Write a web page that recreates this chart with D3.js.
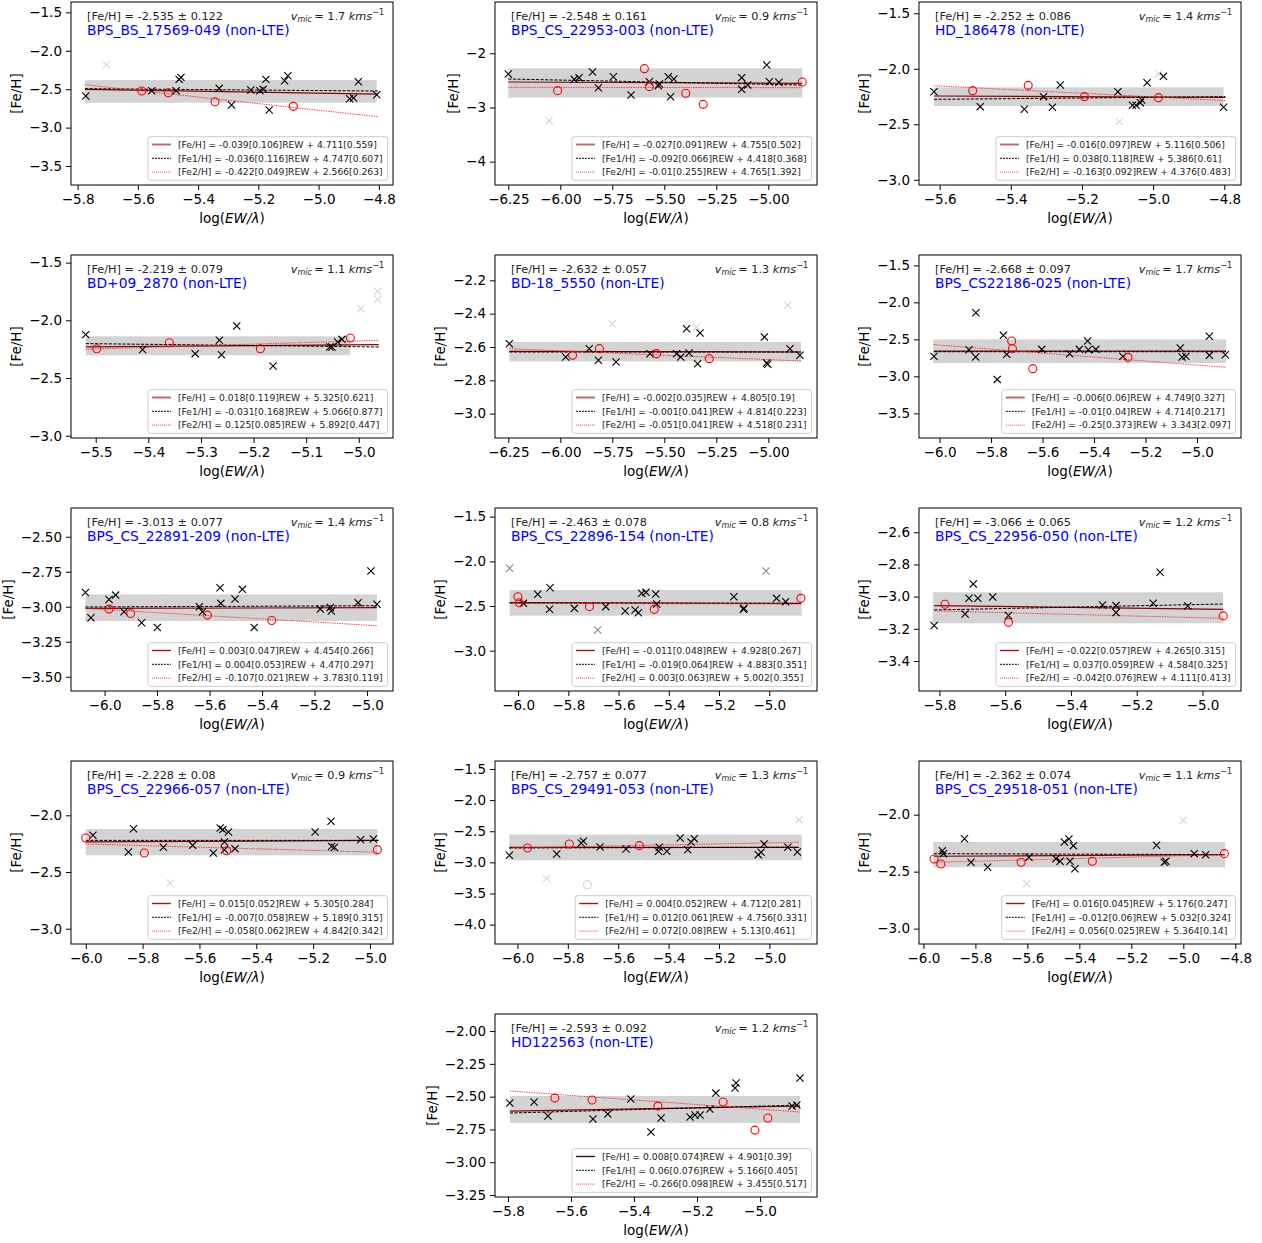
<!DOCTYPE html>
<html>
<head>
<meta charset="utf-8">
<script src="https://cdn.jsdelivr.net/npm/d3@7"></script>
<style>
body{margin:0;background:#fff;}
svg text{font-family:"DejaVu Sans",sans-serif;}
</style>
</head>
<body>
<svg id="chart" width="1262" height="1243"></svg>
<script>
// one entry per star (panel order: left to right, top to bottom)
const starNames = ['BPS_BS_17569-049','BPS_CS_22953-003','HD_186478','BD+09_2870','BD-18_5550','BPS_CS22186-025',
  'BPS_CS_22891-209','BPS_CS_22896-154','BPS_CS_22956-050','BPS_CS_22966-057','BPS_CS_29491-053','BPS_CS_29518-051','HD122563'];
const feMean = ['-2.535','-2.548','-2.252','-2.219','-2.632','-2.668','-3.013','-2.463','-3.066','-2.228','-2.757','-2.362','-2.593'];
const feErr = ['0.122','0.161','0.086','0.079','0.057','0.097','0.077','0.078','0.065','0.08','0.077','0.074','0.092'];
const vmic = ['1.7','0.9','1.4','1.1','1.3','1.7','1.4','0.8','1.2','0.9','1.3','1.1','1.2'];

const fitFeText = ['-0.039[0.106]REW + 4.711[0.559]','-0.027[0.091]REW + 4.755[0.502]','-0.016[0.097]REW + 5.116[0.506]',
  '0.018[0.119]REW + 5.325[0.621]','-0.002[0.035]REW + 4.805[0.19]','-0.006[0.06]REW + 4.749[0.327]',
  '0.003[0.047]REW + 4.454[0.266]','-0.011[0.048]REW + 4.928[0.267]','-0.022[0.057]REW + 4.265[0.315]',
  '0.015[0.052]REW + 5.305[0.284]','0.004[0.052]REW + 4.712[0.281]','0.016[0.045]REW + 5.176[0.247]',
  '0.008[0.074]REW + 4.901[0.39]'];
const fitFe1Text = ['-0.036[0.116]REW + 4.747[0.607]','-0.092[0.066]REW + 4.418[0.368]','0.038[0.118]REW + 5.386[0.61]',
  '-0.031[0.168]REW + 5.066[0.877]','-0.001[0.041]REW + 4.814[0.223]','-0.01[0.04]REW + 4.714[0.217]',
  '0.004[0.053]REW + 4.47[0.297]','-0.019[0.064]REW + 4.883[0.351]','0.037[0.059]REW + 4.584[0.325]',
  '-0.007[0.058]REW + 5.189[0.315]','0.012[0.061]REW + 4.756[0.331]','-0.012[0.06]REW + 5.032[0.324]',
  '0.06[0.076]REW + 5.166[0.405]'];
const fitFe2Text = ['-0.422[0.049]REW + 2.566[0.263]','-0.01[0.255]REW + 4.765[1.392]','-0.163[0.092]REW + 4.376[0.483]',
  '0.125[0.085]REW + 5.892[0.447]','-0.051[0.041]REW + 4.518[0.231]','-0.25[0.373]REW + 3.343[2.097]',
  '-0.107[0.021]REW + 3.783[0.119]','0.003[0.063]REW + 5.002[0.355]','-0.042[0.076]REW + 4.111[0.413]',
  '-0.058[0.062]REW + 4.842[0.342]','0.072[0.08]REW + 5.13[0.461]','0.056[0.025]REW + 5.364[0.14]',
  '-0.266[0.098]REW + 3.455[0.517]'];

const xDomains = [[-5.822,-4.753],[-6.314,-4.766],[-5.658,-4.753],[-5.547,-4.935],[-6.314,-4.766],[-6.080,-4.829],
  [-6.128,-4.901],[-6.092,-4.810],[-5.862,-4.883],[-6.052,-4.919],[-6.089,-4.811],[-6.017,-4.778],[-5.841,-4.819]];
const yDomains = [[-3.747,-1.365],[-4.431,-1.052],[-3.047,-1.398],[-3.020,-1.434],[-3.146,-2.048],[-3.833,-1.360],
  [-3.602,-2.295],[-3.451,-1.403],[-3.587,-2.449],[-3.135,-1.521],[-4.311,-1.372],[-3.135,-1.529],[-3.265,-1.870]];
const xTicks = [[-5.8,-5.6,-5.4,-5.2,-5.0,-4.8],[-6.25,-6.0,-5.75,-5.5,-5.25,-5.0],[-5.6,-5.4,-5.2,-5.0,-4.8],
  [-5.5,-5.4,-5.3,-5.2,-5.1,-5.0],[-6.25,-6.0,-5.75,-5.5,-5.25,-5.0],[-6.0,-5.8,-5.6,-5.4,-5.2,-5.0],
  [-6.0,-5.8,-5.6,-5.4,-5.2,-5.0],[-6.0,-5.8,-5.6,-5.4,-5.2,-5.0],[-5.8,-5.6,-5.4,-5.2,-5.0],
  [-6.0,-5.8,-5.6,-5.4,-5.2,-5.0],[-6.0,-5.8,-5.6,-5.4,-5.2,-5.0],[-6.0,-5.8,-5.6,-5.4,-5.2,-5.0,-4.8],
  [-5.8,-5.6,-5.4,-5.2,-5.0]];
const xTickDec = [1,2,1,1,2,1,1,1,1,1,1,1,1];
const yTicks = [[-1.5,-2.0,-2.5,-3.0,-3.5],[-2,-3,-4],[-1.5,-2.0,-2.5,-3.0],[-1.5,-2.0,-2.5,-3.0],
  [-2.2,-2.4,-2.6,-2.8,-3.0],[-1.5,-2.0,-2.5,-3.0,-3.5],[-2.5,-2.75,-3.0,-3.25,-3.5],[-1.5,-2.0,-2.5,-3.0],
  [-2.6,-2.8,-3.0,-3.2,-3.4],[-2.0,-2.5,-3.0],[-1.5,-2.0,-2.5,-3.0,-3.5,-4.0],[-2.0,-2.5,-3.0],
  [-2.0,-2.25,-2.5,-2.75,-3.0,-3.25]];
const yTickDec = [1,0,1,1,1,1,2,1,1,1,1,1,2];

// Fe I lines [log(EW/lambda), [Fe/H]]
const fe1Points = [
  [[-5.773,-2.589],[-5.554,-2.520],[-5.473,-2.520],[-5.463,-2.372],[-5.457,-2.346],[-5.330,-2.489],[-5.289,-2.706],[-5.225,-2.511],[-5.195,-2.520],[-5.184,-2.502],[-5.175,-2.372],[-5.164,-2.771],[-5.113,-2.389],[-5.102,-2.324],[-4.897,-2.624],[-4.884,-2.615],[-4.868,-2.402],[-4.807,-2.572]],
  [[-6.250,-2.382],[-5.933,-2.480],[-5.910,-2.449],[-5.845,-2.345],[-5.817,-2.634],[-5.745,-2.431],[-5.660,-2.769],[-5.572,-2.523],[-5.529,-2.597],[-5.524,-2.566],[-5.481,-2.431],[-5.470,-2.800],[-5.454,-2.474],[-5.128,-2.449],[-5.128,-2.665],[-5.099,-2.585],[-5.008,-2.215],[-4.995,-2.523],[-4.949,-2.535]],
  [[-5.616,-2.206],[-5.486,-2.341],[-5.362,-2.365],[-5.308,-2.251],[-5.283,-2.347],[-5.261,-2.146],[-5.099,-2.206],[-5.058,-2.329],[-5.048,-2.329],[-5.036,-2.305],[-5.032,-2.281],[-5.017,-2.125],[-4.971,-2.068],[-4.802,-2.347]],
  [[-5.519,-2.124],[-5.411,-2.254],[-5.311,-2.289],[-5.265,-2.173],[-5.261,-2.298],[-5.232,-2.049],[-5.163,-2.396],[-5.055,-2.231],[-5.051,-2.231],[-5.040,-2.188],[-5.032,-2.165]],
  [[-6.245,-2.580],[-5.974,-2.660],[-5.861,-2.610],[-5.817,-2.680],[-5.732,-2.690],[-5.569,-2.640],[-5.441,-2.640],[-5.421,-2.660],[-5.393,-2.490],[-5.381,-2.636],[-5.328,-2.516],[-5.340,-2.700],[-5.019,-2.540],[-5.008,-2.696],[-5.003,-2.704],[-4.896,-2.610],[-4.848,-2.650]],
  [[-6.022,-2.730],[-5.886,-2.640],[-5.860,-2.739],[-5.859,-2.140],[-5.776,-3.041],[-5.752,-2.446],[-5.739,-2.703],[-5.603,-2.635],[-5.495,-2.694],[-5.457,-2.635],[-5.425,-2.523],[-5.422,-2.640],[-5.393,-2.635],[-5.288,-2.730],[-5.065,-2.617],[-5.058,-2.739],[-5.043,-2.730],[-4.952,-2.459],[-4.952,-2.716],[-4.890,-2.707]],
  [[-6.073,-2.898],[-6.052,-3.079],[-5.983,-2.948],[-5.958,-2.917],[-5.926,-3.036],[-5.859,-3.114],[-5.799,-3.148],[-5.639,-3.000],[-5.627,-3.036],[-5.560,-2.864],[-5.557,-2.976],[-5.503,-2.945],[-5.475,-2.876],[-5.430,-3.148],[-5.178,-3.017],[-5.140,-3.005],[-5.136,-3.031],[-5.034,-2.971],[-4.985,-2.745],[-4.962,-2.983]],
  [[-5.979,-2.470],[-5.922,-2.369],[-5.873,-2.295],[-5.875,-2.537],[-5.776,-2.526],[-5.651,-2.507],[-5.574,-2.556],[-5.534,-2.545],[-5.521,-2.575],[-5.508,-2.358],[-5.491,-2.347],[-5.452,-2.366],[-5.448,-2.478],[-5.141,-2.396],[-5.103,-2.537],[-5.101,-2.526],[-4.971,-2.414],[-4.935,-2.451]],
  [[-5.816,-3.180],[-5.722,-3.108],[-5.710,-3.010],[-5.697,-2.921],[-5.683,-3.010],[-5.638,-3.002],[-5.590,-3.118],[-5.304,-3.052],[-5.263,-3.056],[-5.263,-3.099],[-5.150,-3.041],[-5.129,-2.849],[-5.045,-3.058]],
  [[-5.975,-2.176],[-5.850,-2.324],[-5.832,-2.118],[-5.727,-2.282],[-5.624,-2.265],[-5.551,-2.332],[-5.527,-2.112],[-5.518,-2.126],[-5.512,-2.235],[-5.512,-2.303],[-5.498,-2.147],[-5.475,-2.294],[-5.193,-2.147],[-5.137,-2.053],[-5.135,-2.274],[-5.125,-2.282],[-5.033,-2.215],[-4.988,-2.209]],
  [[-6.032,-2.887],[-5.844,-2.865],[-5.747,-2.688],[-5.738,-2.662],[-5.672,-2.753],[-5.569,-2.785],[-5.440,-2.822],[-5.437,-2.758],[-5.407,-2.822],[-5.354,-2.608],[-5.324,-2.796],[-5.311,-2.672],[-5.298,-2.619],[-5.044,-2.876],[-5.033,-2.838],[-5.021,-2.704],[-4.927,-2.758],[-4.889,-2.833]],
  [[-5.927,-2.316],[-5.923,-2.342],[-5.842,-2.211],[-5.817,-2.418],[-5.753,-2.462],[-5.594,-2.374],[-5.490,-2.386],[-5.474,-2.409],[-5.458,-2.240],[-5.440,-2.213],[-5.436,-2.409],[-5.423,-2.272],[-5.417,-2.474],[-5.103,-2.269],[-5.073,-2.418],[-5.067,-2.409],[-4.958,-2.342],[-4.914,-2.351]],
  [[-5.794,-2.549],[-5.717,-2.541],[-5.673,-2.648],[-5.530,-2.671],[-5.483,-2.633],[-5.410,-2.518],[-5.346,-2.770],[-5.314,-2.663],[-5.222,-2.655],[-5.206,-2.640],[-5.190,-2.640],[-5.159,-2.595],[-5.140,-2.473],[-5.079,-2.434],[-5.076,-2.396],[-4.898,-2.572],[-4.883,-2.564],[-4.873,-2.358]]
];
// Fe II lines
const fe2Points = [
  [[-5.587,-2.524],[-5.499,-2.546],[-5.344,-2.663],[-5.084,-2.723]],
  [[-6.013,-2.689],[-5.596,-2.283],[-5.572,-2.615],[-5.397,-2.738],[-5.313,-2.942],[-4.837,-2.529]],
  [[-5.507,-2.197],[-5.351,-2.149],[-5.193,-2.251],[-4.985,-2.260]],
  [[-5.498,-2.246],[-5.360,-2.194],[-5.187,-2.246],[-5.016,-2.153]],
  [[-5.941,-2.650],[-5.812,-2.610],[-5.537,-2.640],[-5.284,-2.670]],
  [[-5.720,-2.523],[-5.717,-2.626],[-5.638,-2.896],[-5.268,-2.743]],
  [[-5.983,-3.017],[-5.901,-3.048],[-5.608,-3.060],[-5.363,-3.098]],
  [[-6.001,-2.396],[-5.995,-2.463],[-5.716,-2.507],[-5.458,-2.537],[-4.874,-2.414]],
  [[-5.783,-3.048],[-5.590,-3.160],[-4.937,-3.120]],
  [[-6.000,-2.200],[-5.794,-2.332],[-5.504,-2.312],[-4.974,-2.303]],
  [[-5.960,-2.769],[-5.794,-2.704],[-5.516,-2.731]],
  [[-5.959,-2.389],[-5.933,-2.433],[-5.624,-2.418],[-5.350,-2.409],[-4.842,-2.342]],
  [[-5.651,-2.511],[-5.533,-2.526],[-5.324,-2.572],[-5.117,-2.541],[-5.016,-2.755],[-4.975,-2.663]]
];
// rejected lines (drawn grey)
const rejFe1 = [[[-5.704,-2.185]],[[-6.054,-3.243]],[[-5.095,-2.476],[-4.985,-2.047]],[[-4.996,-1.899],[-4.964,-1.749],[-4.964,-1.818]],
  [[-5.750,-2.460],[-5.345,-2.480],[-4.907,-2.350]],[],[],[[-6.034,-2.078],[-5.683,-2.769],[-5.013,-2.108]],[],
  [[-5.703,-2.597]],[[-5.884,-3.261],[-4.882,-2.314]],[[-5.603,-2.605],[-5.000,-2.050]],[]];
const rejFe2 = [[],[],[],[],[],[],[],[],[],[],[[-5.722,-3.358]],[],[]];

// fits: x range and [Fe/H] at both ends
const fitX = [[-5.776,-4.803],[-6.250,-4.837],[-5.616,-4.797],[-5.519,-4.962],[-6.245,-4.843],[-6.022,-4.887],
  [-6.073,-4.962],[-6.034,-4.874],[-5.816,-4.937],[-6.000,-4.970],[-6.032,-4.882],[-5.959,-4.842],[-5.794,-4.873]];
const fitFe = [[-2.502,-2.563],[-2.529,-2.554],[-2.245,-2.257],[-2.231,-2.211],[-2.626,-2.630],[-2.658,-2.658],
  [-3.012,-3.007],[-2.463,-2.470],[-3.056,-3.079],[-2.235,-2.221],[-2.758,-2.758],[-2.365,-2.351],[-2.610,-2.572]];
const fitFe1 = [[-2.493,-2.524],[-2.474,-2.585],[-2.275,-2.251],[-2.202,-2.231],[-2.630,-2.630],[-2.667,-2.667],
  [-3.002,-2.993],[-2.466,-2.470],[-3.083,-3.046],[-2.221,-2.221],[-2.769,-2.758],[-2.342,-2.351],[-2.625,-2.564]];
const fitFe2 = [[-2.441,-2.858],[-2.627,-2.634],[-2.152,-2.287],[-2.251,-2.173],[-2.610,-2.684],[-2.572,-2.878],
  [-3.012,-3.136],[-2.470,-2.478],[-3.089,-3.135],[-2.253,-2.326],[-2.769,-2.678],[-2.418,-2.351],[-2.457,-2.617]];
// scatter band: x0, x1, low, high
const bands = [[-5.776,-4.807,-2.676,-2.381],[-6.250,-4.837,-2.818,-2.277],[-5.616,-4.802,-2.335,-2.167],
  [-5.519,-5.016,-2.303,-2.139],[-6.245,-4.843,-2.686,-2.570],[-6.025,-4.887,-2.820,-2.500],
  [-6.073,-4.962,-3.102,-2.912],[-6.034,-4.871,-2.608,-2.321],[-5.820,-4.937,-3.166,-2.973],
  [-6.000,-4.974,-2.353,-2.121],[-6.032,-4.871,-2.967,-2.555],[-5.962,-4.839,-2.462,-2.240],
  [-5.794,-4.873,-2.701,-2.495]];

var svg = d3.select('#chart');
const colLeft = [71, 495, 919], rowTop = [2, 255, 508, 761, 1014];
const PW = 322, PH = 183;
const crossPath = 'M-3.6,-3.6L3.6,3.6M-3.6,3.6L3.6,-3.6';

starNames.forEach(function(name, i){
  var row = i < 12 ? Math.floor(i/3) : 4;
  var col = i < 12 ? i % 3 : 1;
  var g = svg.append('g').attr('transform','translate('+colLeft[col]+','+rowTop[row]+')');
  var x = d3.scaleLinear().domain(xDomains[i]).range([0, PW]);
  var y = d3.scaleLinear().domain(yDomains[i]).range([PH, 0]);

  var b = bands[i];
  g.append('rect')
    .attr('x', x(b[0])).attr('y', y(b[3]))
    .attr('width', x(b[1]) - x(b[0])).attr('height', y(b[2]) - y(b[3]))
    .attr('fill', '#d3d3d3');

  var rejColor = i === 7 ? '#8a8a8a' : '#d6d6d6';
  g.append('g').selectAll('path').data(rejFe1[i]).enter().append('path')
    .attr('d', crossPath)
    .attr('transform', d => 'translate('+x(d[0])+','+y(d[1])+')')
    .attr('stroke', rejColor).attr('stroke-width', 1.1).attr('fill','none');
  g.append('g').selectAll('circle').data(rejFe2[i]).enter().append('circle')
    .attr('cx', d => x(d[0])).attr('cy', d => y(d[1])).attr('r', 4)
    .attr('stroke', rejColor).attr('stroke-width', 1.1).attr('fill','none');

  // fit lines
  var fx = fitX[i];
  var line = d3.line().x(d => x(d[0])).y(d => y(d[1]));
  g.append('path').attr('d', line([[fx[0], fitFe[i][0]],[fx[1], fitFe[i][1]]]))
    .attr('stroke','#8b0000').attr('stroke-width',1.2).attr('fill','none');
  g.append('path').attr('d', line([[fx[0], fitFe1[i][0]],[fx[1], fitFe1[i][1]]]))
    .attr('stroke','#000').attr('stroke-width',1).attr('stroke-dasharray','3.2,1.4').attr('fill','none');
  g.append('path').attr('d', line([[fx[0], fitFe2[i][0]],[fx[1], fitFe2[i][1]]]))
    .attr('stroke','#ff2a2a').attr('stroke-opacity',0.9).attr('stroke-width',1).attr('stroke-dasharray','1.4,1').attr('fill','none');

  g.append('g').selectAll('path').data(fe1Points[i]).enter().append('path')
    .attr('d', crossPath)
    .attr('transform', d => 'translate('+x(d[0])+','+y(d[1])+')')
    .attr('stroke', '#000').attr('stroke-width', 1.1).attr('fill','none');
  g.append('g').selectAll('circle').data(fe2Points[i]).enter().append('circle')
    .attr('cx', d => x(d[0])).attr('cy', d => y(d[1])).attr('r', 4)
    .attr('stroke', 'red').attr('stroke-width', 1.1).attr('fill','none');

  // axes
  var xAxis = d3.axisBottom(x).tickValues(xTicks[i]).tickFormat(d3.format('.'+xTickDec[i]+'f')).tickSize(5).tickPadding(4);
  var yAxis = d3.axisLeft(y).tickValues(yTicks[i]).tickFormat(d3.format('.'+yTickDec[i]+'f')).tickSize(5).tickPadding(4);
  var gx = g.append('g').attr('transform','translate(0,'+PH+')').call(xAxis);
  var gy = g.append('g').call(yAxis);
  [gx, gy].forEach(function(a){
    a.select('.domain').remove();
    a.selectAll('text').style('font-size','13.5px').attr('fill','#000');
    a.selectAll('line').attr('stroke','#000');
  });

  g.append('rect').attr('width', PW).attr('height', PH)
    .attr('fill','none').attr('stroke','#000').attr('stroke-width',1);

  // axis labels
  var yb = gy.node().getBBox();
  g.append('text').attr('transform','translate('+(yb.x - 8)+','+(PH/2)+') rotate(-90)')
    .attr('text-anchor','middle').style('font-size','13.5px').text('[Fe/H]');
  var xl = g.append('text').attr('x', PW/2).attr('y', PH + 37.5)
    .attr('text-anchor','middle').style('font-size','13.5px');
  xl.append('tspan').text('log(');
  xl.append('tspan').style('font-style','italic').text('EW/λ');
  xl.append('tspan').text(')');

  // annotations
  g.append('text').attr('x', 16).attr('y', 17.5).style('font-size','11.3px').attr('fill','#222')
    .text('[Fe/H] = ' + feMean[i] + ' \u00b1 ' + feErr[i]);
  g.append('text').attr('x', 16).attr('y', 32.5).style('font-size','13.8px').attr('fill','blue')
    .text(name + ' (non-LTE)');
  var vt = g.append('text').attr('x', PW - 9).attr('y', 17.5).attr('text-anchor','end')
    .style('font-size','11.3px').attr('fill','#222');
  vt.append('tspan').style('font-style','italic').text('v');
  vt.append('tspan').style('font-style','italic').style('font-size','8px').attr('dy', 2.5).text('mic');
  vt.append('tspan').attr('dy', -2.5).text('\u2009= ' + vmic[i] + ' ');
  vt.append('tspan').style('font-style','italic').text('kms');
  vt.append('tspan').style('font-size','8px').attr('dy', -4.5).text('\u22121');

  // legend
  var lg = g.append('g');
  var entries = ['[Fe/H] = ' + fitFeText[i], '[Fe1/H] = ' + fitFe1Text[i], '[Fe2/H] = ' + fitFe2Text[i]];
  var widths = entries.map(function(t, k){
    var tx = lg.append('text').attr('x', 30).attr('y', 7.8 + 13.8*k).attr('dy','0.35em')
      .style('font-size','9.2px').attr('fill','#222').text(t);
    return tx.node().getComputedTextLength();
  });
  var lw = 30 + d3.max(widths) + 5, lh = 43.6;
  lg.insert('rect', ':first-child').attr('width', lw).attr('height', lh).attr('rx', 2.5)
    .attr('fill','#fff').attr('fill-opacity',0.85).attr('stroke','#ccc').attr('stroke-width',1);
  lg.append('line').attr('x1',4).attr('x2',23).attr('y1',7.8).attr('y2',7.8)
    .attr('stroke', i < 6 ? '#c06a6a' : (i === 12 ? '#301010' : '#a01818')).attr('stroke-width', i < 6 ? 2 : 1.4);
  lg.append('line').attr('x1',4).attr('x2',23).attr('y1',21.6).attr('y2',21.6)
    .attr('stroke','#000').attr('stroke-width',1).attr('stroke-dasharray','2,1');
  lg.append('line').attr('x1',4).attr('x2',23).attr('y1',35.4).attr('y2',35.4)
    .attr('stroke','#ff4040').attr('stroke-width',1).attr('stroke-dasharray','1,1');
  lg.attr('transform','translate('+(PW - 5.4 - lw)+','+(PH - 4.7 - lh)+')');
});
</script>
</body>
</html>
